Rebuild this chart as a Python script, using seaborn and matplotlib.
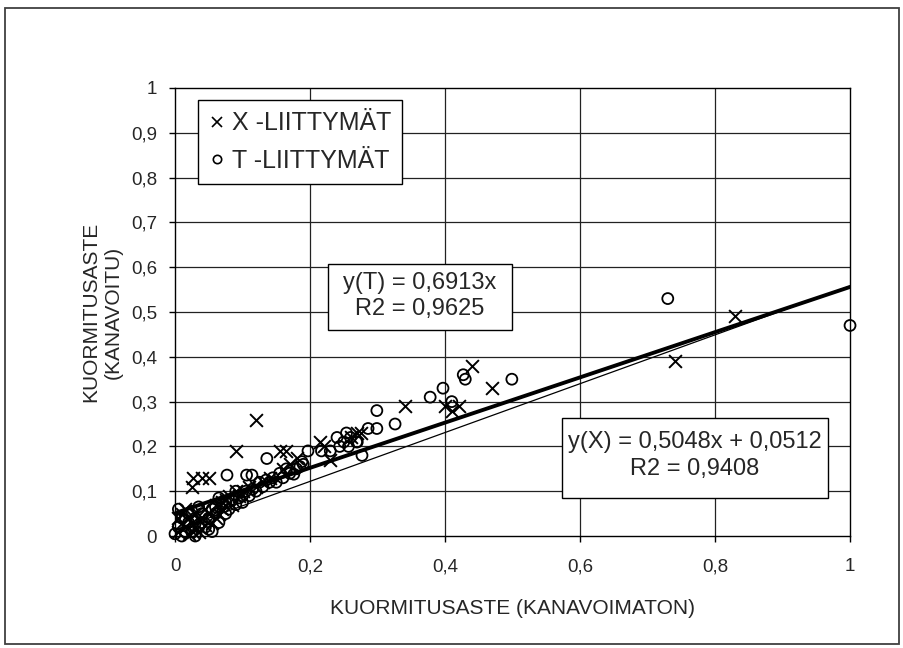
import matplotlib
matplotlib.use("Agg")
import matplotlib.pyplot as plt
import seaborn as sns
import pandas as pd
import numpy as np
from matplotlib.lines import Line2D
from matplotlib.patches import Rectangle

# X-liittymät (x = kanavoimaton, y = kanavoitu)
x_points = [(0.005, 0.01), (0.01, 0.03), (0.01, 0.05), (0.015, 0.02), (0.02, 0.04),
            (0.02, 0.005), (0.025, 0.03), (0.027, 0.01), (0.03, 0.05), (0.03, 0.02),
            (0.035, 0.01), (0.04, 0.04), (0.045, 0.06), (0.05, 0.05), (0.055, 0.03),
            (0.06, 0.07), (0.065, 0.05), (0.07, 0.06), (0.075, 0.08), (0.08, 0.09),
            (0.085, 0.07), (0.09, 0.1), (0.095, 0.09), (0.1, 0.1), (0.11, 0.11),
            (0.12, 0.11), (0.13, 0.12), (0.005, 0.04), (0.015, 0.06), (0.035, 0.035),
            (0.045, 0.025), (0.06, 0.04), (0.07, 0.075), (0.14, 0.13),
            (0.025, 0.11), (0.027, 0.13), (0.04, 0.13), (0.05, 0.13), (0.09, 0.19),
            (0.12, 0.26), (0.155, 0.19), (0.165, 0.19), (0.16, 0.15), (0.17, 0.16),
            (0.18, 0.175), (0.215, 0.21), (0.22, 0.2), (0.23, 0.17), (0.26, 0.22),
            (0.27, 0.23), (0.275, 0.23), (0.34, 0.29), (0.40, 0.29), (0.41, 0.28),
            (0.42, 0.29), (0.44, 0.38), (0.47, 0.33), (0.74, 0.39), (0.83, 0.49)]

# T-liittymät
t_points = [(0.005, 0.02), (0.01, 0.0), (0.01, 0.04), (0.015, 0.01), (0.02, 0.03),
            (0.02, 0.05), (0.025, 0.01), (0.03, 0.04), (0.035, 0.02), (0.04, 0.03),
            (0.04, 0.05), (0.045, 0.02), (0.05, 0.04), (0.055, 0.06), (0.06, 0.05),
            (0.065, 0.03), (0.07, 0.07), (0.075, 0.05), (0.08, 0.06), (0.085, 0.08),
            (0.09, 0.07), (0.1, 0.09), (0.105, 0.1), (0.11, 0.09), (0.12, 0.1),
            (0.125, 0.12), (0.13, 0.11), (0.14, 0.12), (0.145, 0.13), (0.15, 0.12),
            (0.155, 0.14), (0.165, 0.15), (0.17, 0.14), (0.18, 0.15), (0.19, 0.16),
            (0.0, 0.005), (0.005, 0.06), (0.015, 0.035), (0.025, 0.055), (0.03, 0.0),
            (0.05, 0.015), (0.06, 0.065), (0.075, 0.075), (0.095, 0.085), (0.115, 0.105),
            (0.135, 0.125), (0.16, 0.13), (0.185, 0.155), (0.035, 0.065), (0.055, 0.01),
            (0.065, 0.085), (0.09, 0.1), (0.1, 0.075),
            (0.077, 0.136), (0.106, 0.136), (0.114, 0.136), (0.136, 0.173), (0.176, 0.138),
            (0.188, 0.166), (0.197, 0.19), (0.217, 0.19), (0.23, 0.19), (0.24, 0.22),
            (0.25, 0.21), (0.26, 0.22), (0.27, 0.21), (0.244, 0.20), (0.257, 0.20),
            (0.269, 0.21), (0.254, 0.23), (0.286, 0.24), (0.299, 0.24), (0.277, 0.18),
            (0.299, 0.28), (0.326, 0.25), (0.378, 0.31), (0.397, 0.33), (0.41, 0.30),
            (0.427, 0.36), (0.43, 0.35), (0.499, 0.35), (0.73, 0.53), (1.0, 0.47)]

# trendiviivat: [kulmakerroin, vakio]
fit_x = [0.5048, 0.0512]
fit_thin = [0.545, 0.013]

x_ticks = [0, 0.2, 0.4, 0.6, 0.8, 1.0]
y_ticks = [0, 0.1, 0.2, 0.3, 0.4, 0.5, 0.6, 0.7, 0.8, 0.9, 1.0]

df_x = pd.DataFrame(x_points, columns=["kanavoimaton", "kanavoitu"])
df_t = pd.DataFrame(t_points, columns=["kanavoimaton", "kanavoitu"])

sns.set_theme(style="white")
plt.rcParams["font.family"] = ["Liberation Sans", "DejaVu Sans"]

fig = plt.figure(figsize=(9.04, 6.48), dpi=100)
ax = fig.add_axes([0.1936, 0.1728, 0.7467, 0.6914])

# ruudukko
for yv in y_ticks[1:-1]:
    ax.axhline(yv, color="#222222", lw=0.9, zorder=0)
for xv in x_ticks[1:-1]:
    ax.axvline(xv, color="#222222", lw=0.9, zorder=0)

sns.scatterplot(data=df_x, x="kanavoimaton", y="kanavoitu", marker="x", s=85,
                color="black", linewidth=1.4, ax=ax, clip_on=False, zorder=3)
sns.scatterplot(data=df_t, x="kanavoimaton", y="kanavoitu", marker="o", s=62,
                facecolor="none", edgecolor="black", linewidth=1.3, ax=ax,
                clip_on=False, zorder=3)

xs = np.array([0.0, 1.0])
ax.plot(xs, fit_thin[0] * xs + fit_thin[1], color="black", lw=0.9, zorder=4)
ax.plot(xs, fit_x[0] * xs + fit_x[1], color="black", lw=2.8, zorder=4)

ax.set_xlim(0, 1)
ax.set_ylim(0, 1)
ax.set_xticks(x_ticks)
ax.set_yticks(y_ticks)
ax.set_xticklabels([f"{v:g}".replace(".", ",") for v in x_ticks], fontsize=13.5)
ax.set_yticklabels([f"{v:g}".replace(".", ",") for v in y_ticks], fontsize=13.5)
ax.tick_params(axis="x", direction="out", length=4, width=1, color="black",
               bottom=True, pad=12)
ax.tick_params(axis="y", direction="out", length=4, width=1, color="black",
               left=True, pad=9)
for sp in ax.spines.values():
    sp.set_color("black")
    sp.set_linewidth(1.0)

ax.set_xlabel("KUORMITUSASTE (KANAVOIMATON)", fontsize=15, labelpad=17)
ax.set_ylabel("KUORMITUSASTE\n(KANAVOITU)", fontsize=15, labelpad=6)

handles = [Line2D([], [], marker="x", ls="none", color="black", ms=7, mew=1.2),
           Line2D([], [], marker="o", ls="none", mfc="none", mec="black", ms=6, mew=1.2)]
leg = ax.legend(handles, ["X -LIITTYMÄT", "T -LIITTYMÄT"], loc="upper left",
                bbox_to_anchor=(0.034, 0.973), borderaxespad=0, fontsize=18,
                frameon=True, fancybox=False, handlelength=0.6, handletextpad=0.3,
                borderpad=0.45, labelspacing=0.55)
leg.get_frame().set_edgecolor("black")
leg.get_frame().set_linewidth(1.0)
leg.get_frame().set_alpha(1)

# yhtälölaatikot
ax.add_patch(Rectangle((0.227, 0.46), 0.272, 0.147, transform=ax.transAxes,
                       fc="white", ec="black", lw=1.0, zorder=5))
ax.text(0.363, 0.535, "y(T) = 0,6913x\nR2 = 0,9625", ha="center", va="center",
        fontsize=17, zorder=6, linespacing=1.25)
ax.add_patch(Rectangle((0.573, 0.085), 0.394, 0.178, transform=ax.transAxes,
                       fc="white", ec="black", lw=1.0, zorder=5))
ax.text(0.770, 0.18, "y(X) = 0,5048x + 0,0512\nR2 = 0,9408", ha="center", va="center",
        fontsize=17, zorder=6, linespacing=1.25)

fig.patches.append(Rectangle((5 / 904, 1 - 644 / 648), 894 / 904, 636 / 648,
                             transform=fig.transFigure, fill=False,
                             ec="#404040", lw=1.3))

fig.savefig("out.png", dpi=100)
